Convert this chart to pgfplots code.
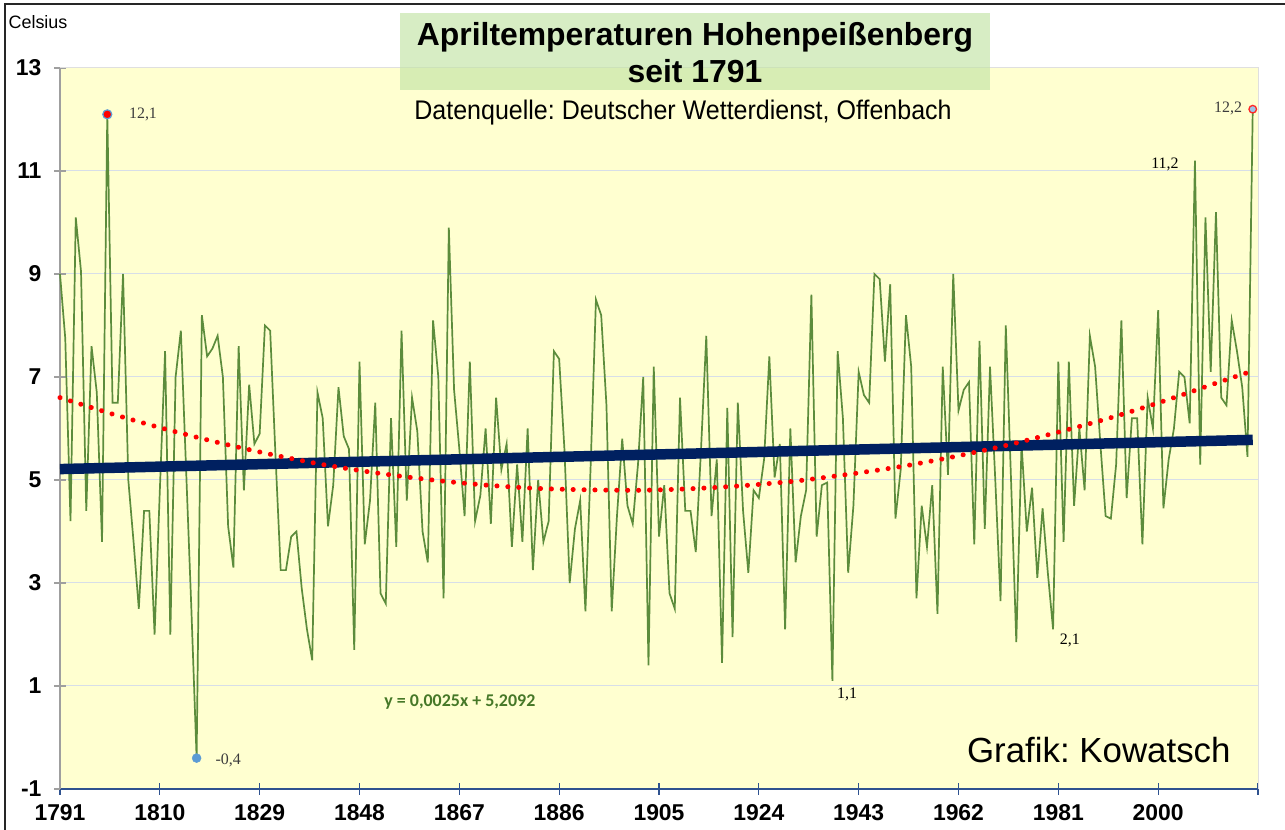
\documentclass[border=0pt]{standalone}
\usepackage{fontspec}
\setmainfont{Liberation Sans}
\newfontfamily\lblfont{Liberation Serif}
\newfontfamily\carlito{Carlito}
\usepackage{pgfplots}
\pgfplotsset{compat=1.18}
\usepackage{pgfplotstable}
\usepackage{graphicx}
\frenchspacing
\definecolor{bgyellow}{RGB}{255,255,208}
\definecolor{datagreen}{RGB}{92,140,60}
\definecolor{eqgreen}{RGB}{70,120,40}
\definecolor{trendblue}{RGB}{0,32,96}
\definecolor{xaxisblue}{RGB}{47,82,143}
\definecolor{gridc}{RGB}{215,222,232}
\definecolor{titlegreen}{RGB}{195,228,165}
\definecolor{ptblue}{RGB}{91,155,213}
\definecolor{lblgray}{RGB}{60,60,60}

\pgfplotstableread{
year t
1791 9.0
1792 7.75
1793 4.2
1794 10.1
1795 9.05
1796 4.4
1797 7.6
1798 6.7
1799 3.8
1800 12.1
1801 6.5
1802 6.5
1803 9.0
1804 5.0
1805 3.8
1806 2.5
1807 4.4
1808 4.4
1809 2.0
1810 4.8
1811 7.5
1812 2.0
1813 7.0
1814 7.9
1815 5.2
1816 2.5
1817 -0.4
1818 8.2
1819 7.4
1820 7.55
1821 7.8
1822 7.0
1823 4.1
1824 3.3
1825 7.6
1826 4.8
1827 6.85
1828 5.7
1829 5.9
1830 8.0
1831 7.9
1832 5.5
1833 3.25
1834 3.25
1835 3.9
1836 4.0
1837 2.9
1838 2.1
1839 1.5
1840 6.7
1841 6.2
1842 4.1
1843 4.9
1844 6.8
1845 5.85
1846 5.6
1847 1.7
1848 7.3
1849 3.75
1850 4.6
1851 6.5
1852 2.8
1853 2.6
1854 6.2
1855 3.7
1856 7.9
1857 4.6
1858 6.6
1859 5.95
1860 4.0
1861 3.4
1862 8.1
1863 7.0
1864 2.7
1865 9.9
1866 6.75
1867 5.6
1868 4.3
1869 7.3
1870 4.2
1871 4.7
1872 6.0
1873 4.15
1874 6.6
1875 5.2
1876 5.7
1877 3.7
1878 5.3
1879 3.8
1880 6.0
1881 3.25
1882 5.0
1883 3.8
1884 4.2
1885 7.5
1886 7.35
1887 5.6
1888 3.0
1889 4.05
1890 4.6
1891 2.45
1892 5.3
1893 8.5
1894 8.2
1895 6.45
1896 2.45
1897 4.3
1898 5.8
1899 4.5
1900 4.15
1901 5.3
1902 7.0
1903 1.4
1904 7.2
1905 3.9
1906 4.9
1907 2.8
1908 2.5
1909 6.6
1910 4.4
1911 4.4
1912 3.6
1913 5.6
1914 7.8
1915 4.3
1916 5.4
1917 1.45
1918 6.4
1919 1.95
1920 6.5
1921 4.4
1922 3.2
1923 4.8
1924 4.65
1925 5.4
1926 7.4
1927 5.05
1928 5.7
1929 2.1
1930 6.0
1931 3.4
1932 4.3
1933 4.8
1934 8.6
1935 3.9
1936 4.9
1937 4.95
1938 1.1
1939 7.5
1940 6.2
1941 3.2
1942 4.5
1943 7.1
1944 6.65
1945 6.5
1946 9.0
1947 8.9
1948 7.3
1949 8.8
1950 4.25
1951 5.2
1952 8.2
1953 7.2
1954 2.7
1955 4.5
1956 3.7
1957 4.9
1958 2.4
1959 7.2
1960 5.1
1961 9.0
1962 6.35
1963 6.75
1964 6.9
1965 3.75
1966 7.7
1967 4.05
1968 7.2
1969 5.0
1970 2.65
1971 8.0
1972 5.0
1973 1.85
1974 5.7
1975 4.0
1976 4.85
1977 3.1
1978 4.45
1979 3.2
1980 2.1
1981 7.3
1982 3.8
1983 7.3
1984 4.5
1985 6.0
1986 4.8
1987 7.8
1988 7.2
1989 5.7
1990 4.3
1991 4.25
1992 5.3
1993 8.1
1994 4.65
1995 6.2
1996 6.2
1997 3.75
1998 6.6
1999 6.0
2000 8.3
2001 4.45
2002 5.4
2003 6.0
2004 7.1
2005 7.0
2006 6.1
2007 11.2
2008 5.3
2009 10.1
2010 7.1
2011 10.2
2012 6.6
2013 6.45
2014 8.1
2015 7.5
2016 6.8
2017 5.45
2018 12.2
}\temps

\pgfplotstableread{
year t
1791 6.60
1801 6.28
1811 5.99
1821 5.73
1831 5.50
1841 5.30
1851 5.14
1861 5.01
1871 4.91
1881 4.84
1891 4.81
1901 4.80
1911 4.83
1921 4.89
1931 4.98
1941 5.11
1951 5.26
1961 5.45
1971 5.67
1981 5.93
1991 6.21
2001 6.53
2011 6.88
2018 7.12
}\poly

\pgfplotstableread{
year t
1791 5.2117
2018 5.7792
}\lin

\begin{document}
\begin{tikzpicture}[x=1bp,y=1bp]
\useasboundingbox (0,0) rectangle (1285,830);
\fill[white] (0,0) rectangle (1285,830);
\begin{axis}[
  at={(60bp,41bp)}, anchor=south west,
  scale only axis, width=1198bp, height=721bp,
  xmin=1791, xmax=2019, ymin=-1, ymax=13,
  axis background/.style={fill=bgyellow},
  axis x line*=bottom, axis y line*=left,
  x axis line style={color=xaxisblue, line width=1.5bp, -},
  y axis line style={color=gray!75, line width=2bp, -},
  xtick={1791,1810,...,2019},
  xticklabels={1791,1810,1829,1848,1867,1886,1905,1924,1943,1962,1981,2000,},
  ytick={-1,1,...,13},
  ymajorgrids, grid style={color=gridc, line width=1bp},
  x tick style={color=xaxisblue, line width=1.3bp},
  y tick style={color=gray!75, line width=1.5bp},
  tick align=center, major tick length=12bp,
  ticklabel style={font=\bfseries\fontsize{23}{23}\selectfont, text=black},
  xticklabel style={yshift=-6bp},
  yticklabel style={xshift=-9bp},
  /pgf/number format/assume math mode=true,
  clip=false,
]
\draw[gray!25, line width=1bp] (rel axis cs:0,1) -- (rel axis cs:1,1) -- (rel axis cs:1,0);
\addplot[color=datagreen, line width=1.7bp, no marks] table[x=year, y=t] {\temps};
\addplot[color=trendblue, line width=10.5bp, no marks] table[x=year, y=t] {\lin};
\addplot[color=red, line width=5bp, line cap=round, dash pattern=on 0.1bp off 10.8bp, smooth, no marks] table[x=year, y=t] {\poly};
\addplot[only marks, mark=*, mark size=4.5bp, mark options={fill=red, draw=ptblue, line width=1.2bp}] coordinates {(1800,12.1)};
\addplot[only marks, mark=*, mark size=4.5bp, mark options={fill=ptblue, draw=ptblue}] coordinates {(1817,-0.4)};
\addplot[only marks, mark=*, mark size=3.8bp, mark options={fill=ptblue!60, draw=red!85, line width=1.3bp}] coordinates {(2018,12.2)};
\node[font=\lblfont\fontsize{16}{16}\selectfont, text=lblgray] at (axis cs:1806.8,12.1) {12,1};
\node[font=\lblfont\fontsize{16}{16}\selectfont, text=lblgray] at (axis cs:1823,-0.44) {-0,4};
\node[font=\lblfont\fontsize{16}{16}\selectfont, text=lblgray] at (axis cs:2013.3,12.22) {12,2};
\node[font=\lblfont\fontsize{16}{16}\selectfont, text=black] at (axis cs:2001.3,11.12) {11,2};
\node[font=\lblfont\fontsize{16}{16}\selectfont, text=black] at (axis cs:1940.8,0.83) {1,1};
\node[font=\lblfont\fontsize{16}{16}\selectfont, text=black] at (axis cs:1983.2,1.89) {2,1};
\node[font=\carlito\bfseries\fontsize{18}{18}\selectfont, text=eqgreen] at (axis cs:1867.1,0.69) {y = 0,0025x + 5,2092};
\node[font=\fontsize{35}{35}\selectfont] at (axis cs:1988.7,-0.24) {Grafik: Kowatsch};
\end{axis}
\fill[titlegreen, opacity=0.65] (400,740) rectangle (990,817);
\node[font=\bfseries\fontsize{32}{37}\selectfont, align=center] at (695,777) {Apriltemperaturen Hohenpeißenberg\\seit 1791};
\node[font=\fontsize{27}{27}\selectfont] at (683,717) {\scalebox{0.93}[1]{Datenquelle: Deutscher Wetterdienst, Offenbach}};
\node[font=\fontsize{18}{18}\selectfont] at (38,808) {Celsius};
\draw[line width=2bp, black!85] (5,0) -- (5,826) -- (1285,826);
\end{tikzpicture}
\end{document}
